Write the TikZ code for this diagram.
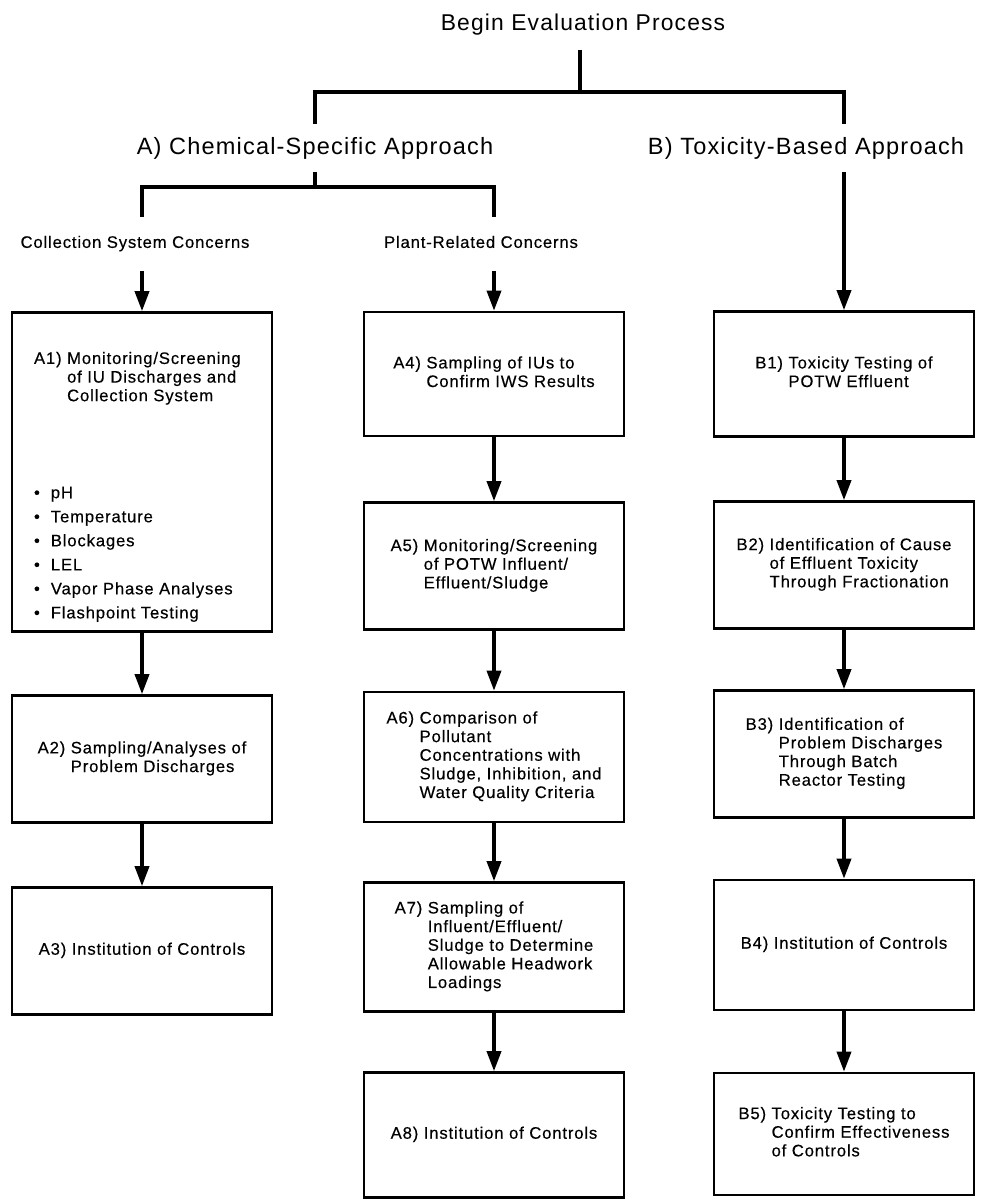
\documentclass[tikz,border=0pt]{standalone}
\usepackage{fontspec}
\setmainfont{Liberation Sans}[LetterSpace=5.0]
\newfontfamily\stagefont{Liberation Sans}[LetterSpace=5.0, FakeBold=0.35]
\usepackage{tikz}
\usetikzlibrary{arrows.meta}

\newcommand{\stagetext}[2]{%
  \begin{tabular}[t]{@{}l@{\ }l@{}}#1&\begin{tabular}[t]{@{}l@{}}#2\end{tabular}\end{tabular}}

\begin{document}
\begin{tikzpicture}[x=0.02cm, y=-0.02cm,
  toptitle/.style={font=\fontsize{13}{15}\selectfont, inner sep=0pt, outer ysep=0.28cm},
  approach/.style={font=\fontsize{13.4}{16}\selectfont, inner sep=0pt, outer ysep=0.26cm},
  concern/.style={font=\stagefont\fontsize{9.5}{11}\selectfont, inner sep=0pt, outer ysep=0.35cm},
  stagebox/.style={draw, line width=1.5pt, minimum width=5.2cm, minimum height=2.54cm,
    inner sep=0pt, font=\stagefont\fontsize{9.5}{10.6}\selectfont},
  link/.style={line width=2pt},
  flow/.style={line width=2pt, -{Triangle[width=0.28cm,length=0.4cm]}}]

\useasboundingbox (0,0) rectangle (982,1201);

% headings
\node[toptitle] (start) at (583,25) {Begin Evaluation Process};
\node[approach] (chem) at (315,148) {A) Chemical-Specific Approach};
\node[approach] (tox) at (806,148) {B) Toxicity-Based Approach};
\node[concern] (coll) at (135,244) {Collection System Concerns\strut};
\node[concern] (plant) at (481,244) {Plant-Related Concerns\strut};

% collection system column
\node[stagebox, minimum height=6.38cm] (A1) at (142,472) {\begin{minipage}[c][6.0cm][s]{4.32cm}
  \vspace*{0.65cm}\stagetext{A1)}{Monitoring/Screening\\of IU Discharges and\\Collection System}\par\vfill
  \renewcommand{\arraystretch}{1.29}%
  \begin{tabular}[b]{@{}l@{\hspace{0.22cm}}l@{}}
  \textbullet&pH\\ \textbullet&Temperature\\ \textbullet&Blockages\\ \textbullet&LEL\\
  \textbullet&Vapor Phase Analyses\\ \textbullet&Flashpoint Testing
  \end{tabular}\end{minipage}};
\node[stagebox] (A2) at (142,759) {\stagetext{A2)}{Sampling/Analyses of\\Problem Discharges}};
\node[stagebox] (A3) at (142,951) {\stagetext{A3)}{Institution of Controls}};

% plant-related column
\node[stagebox, minimum height=2.48cm] (A4) at (494,374) {\stagetext{A4)}{Sampling of IUs to\\Confirm IWS Results}};
\node[stagebox] (A5) at (494,566) {\stagetext{A5)}{Monitoring/Screening\\of POTW Influent/\\Effluent/Sludge}};
\node[stagebox, minimum height=2.6cm] (A6) at (494,757) {\stagetext{A6)}{Comparison of\\Pollutant\\Concentrations with\\Sludge, Inhibition, and\\Water Quality Criteria}};
\node[stagebox, minimum height=2.58cm] (A7) at (494,947) {\stagetext{A7)}{Sampling of\\Influent/Effluent/\\Sludge to Determine\\Allowable Headwork\\Loadings}};
\node[stagebox, minimum height=2.5cm] (A8) at (494,1135) {\stagetext{A8)}{Institution of Controls}};

% toxicity-based column
\node[stagebox, minimum height=2.5cm] (B1) at (844,374) {\stagetext{B1)}{Toxicity Testing of\\POTW Effluent}};
\node[stagebox] (B2) at (844,565) {\stagetext{B2)}{Identification of Cause\\of Effluent Toxicity\\Through Fractionation}};
\node[stagebox] (B3) at (844,754) {\stagetext{B3)}{Identification of\\Problem Discharges\\Through Batch\\Reactor Testing}};
\node[stagebox, minimum height=2.6cm] (B4) at (844,945) {\stagetext{B4)}{Institution of Controls}};
\node[stagebox, minimum height=2.44cm] (B5) at (844,1134) {\stagetext{B5)}{Toxicity Testing to\\Confirm Effectiveness\\of Controls}};

% branching lines
\coordinate (split) at (580,92);
\coordinate (csplit) at (315,187);
\draw[link] (split |- start.south) -- (split);
\draw[link] (chem.north) |- (split) -| (B1 |- tox.north);
\draw[link] (chem.south) -- (csplit);
\draw[link] (A1 |- coll.north) |- (csplit) -| (A4 |- plant.north);

% arrows
\draw[flow] (A1 |- coll.south) -- (A1.north);
\draw[flow] (A4 |- plant.south) -- (A4.north);
\draw[flow] (B1 |- tox.south) -- (B1.north);
\draw[flow] (A1.south) -- (A2.north);
\draw[flow] (A2.south) -- (A3.north);
\draw[flow] (A4.south) -- (A5.north);
\draw[flow] (A5.south) -- (A6.north);
\draw[flow] (A6.south) -- (A7.north);
\draw[flow] (A7.south) -- (A8.north);
\draw[flow] (B1.south) -- (B2.north);
\draw[flow] (B2.south) -- (B3.north);
\draw[flow] (B3.south) -- (B4.north);
\draw[flow] (B4.south) -- (B5.north);
\end{tikzpicture}
\end{document}
